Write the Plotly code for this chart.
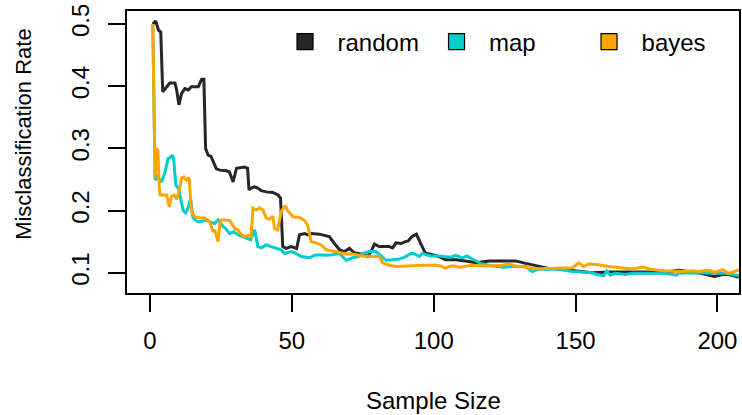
import plotly.graph_objects as go

# ---- data ----
random_x = [1, 2, 3, 3.8, 4.5, 5.9, 7, 8.8, 9.4, 10.2, 11.1, 12.3, 13.5, 14.6, 17, 18.2, 19, 19.6, 20.5, 21.5,
            22.5, 23.4, 24.6, 26.9, 28, 29.3, 30.5, 33.4, 34.4, 34.9, 35.6, 36.9, 38, 39.2, 41, 43.3, 45.1, 46,
            46.8, 48, 49.8, 51.7, 52.7, 54.5, 55.6, 56.8, 59.7, 62.1, 63.2, 65, 66.8, 68.5, 70.3, 72, 75.5, 76.7,
            77.9, 79.1, 80.8, 84.3, 85.5, 86.7, 88.5, 90, 91, 92.3, 93.9, 94.9, 96, 97, 99.5, 101.9, 104.2, 107.8,
            112.4, 114.8, 119.5, 122.9, 128.8, 132.4, 137, 140.5, 144, 150, 155.8, 161.6, 165.1, 170, 175.7,
            181.6, 186.2, 190, 193.3, 197.9, 199, 201.8, 204, 207.3, 210]
random_y = [0.500, 0.505, 0.490, 0.487, 0.391, 0.399, 0.405, 0.405, 0.394, 0.370, 0.388, 0.396, 0.394, 0.399,
            0.399, 0.411, 0.411, 0.300, 0.289, 0.287, 0.276, 0.267, 0.265, 0.264, 0.262, 0.246, 0.268, 0.270,
            0.268, 0.233, 0.236, 0.238, 0.236, 0.232, 0.230, 0.229, 0.225, 0.220, 0.142, 0.139, 0.142, 0.139,
            0.161, 0.163, 0.161, 0.163, 0.162, 0.159, 0.158, 0.147, 0.137, 0.134, 0.139, 0.132, 0.129, 0.126,
            0.134, 0.146, 0.142, 0.142, 0.140, 0.148, 0.147, 0.150, 0.151, 0.158, 0.162, 0.152, 0.142, 0.132,
            0.129, 0.126, 0.121, 0.121, 0.118, 0.116, 0.119, 0.119, 0.119, 0.115, 0.110, 0.107, 0.106, 0.103,
            0.100, 0.101, 0.101, 0.100, 0.100, 0.101, 0.104, 0.102, 0.100, 0.095, 0.094, 0.097, 0.097, 0.093,
            0.093]

map_x = [1, 1.8, 2.6, 4.1, 5.3, 6.4, 6.8, 8, 8.4, 9.1, 10, 10.8, 11.7, 12.6, 13.5, 14.3, 15.2, 16.2, 17, 18.7,
         19.3, 21, 22.8, 24, 25.8, 26.7, 28.1, 29.5, 31, 32.5, 34, 35.5, 36.9, 38, 39.3, 41, 42.7, 44.5, 46.2,
         47.4, 49.8, 51.5, 53.3, 56.2, 58, 59.7, 62.1, 64.4, 66.8, 69.1, 71.4, 73.5, 75, 77.3, 79.6, 81, 83.2,
         85.5, 87.8, 90.2, 91.9, 93.1, 94.9, 96, 97.8, 99, 102, 104.2, 106, 107.8, 110, 111.8, 113.5, 116.6,
         120.6, 124.7, 127.7, 132.4, 134.7, 137, 140, 144, 148.7, 152.3, 155.8, 157, 159.9, 161, 162.2, 164,
         167.5, 170, 172.2, 176, 181.6, 185.6, 186.2, 189.8, 193, 196.8, 199.3, 203, 207.3, 210]
map_y = [0.500, 0.249, 0.254, 0.246, 0.262, 0.284, 0.284, 0.289, 0.280, 0.241, 0.236, 0.217, 0.200, 0.196,
         0.205, 0.219, 0.188, 0.184, 0.182, 0.183, 0.185, 0.182, 0.179, 0.185, 0.174, 0.171, 0.163, 0.166,
         0.161, 0.158, 0.155, 0.153, 0.169, 0.142, 0.140, 0.145, 0.142, 0.139, 0.137, 0.131, 0.134, 0.131,
         0.126, 0.124, 0.128, 0.129, 0.128, 0.129, 0.131, 0.120, 0.124, 0.126, 0.131, 0.134, 0.134, 0.129,
         0.120, 0.121, 0.122, 0.126, 0.131, 0.131, 0.126, 0.131, 0.128, 0.127, 0.127, 0.126, 0.125, 0.128,
         0.124, 0.127, 0.122, 0.115, 0.111, 0.109, 0.110, 0.110, 0.102, 0.106, 0.105, 0.106, 0.102, 0.101,
         0.100, 0.098, 0.095, 0.103, 0.096, 0.099, 0.097, 0.099, 0.099, 0.099, 0.099, 0.096, 0.099, 0.100,
         0.099, 0.100, 0.099, 0.099, 0.095, 0.095]

bayes_x = [1, 1.8, 2.3, 2.8, 3.3, 3.6, 5.9, 6.8, 7.6, 8.5, 9.4, 10.5, 11.1, 11.9, 12.8, 13.8, 14.6, 15.8, 17.6,
           19.3, 21.1, 22.2, 22.8, 24, 24.7, 25.2, 28.1, 29.9, 31, 32.2, 33.4, 34.5, 35.6, 36.3, 37.5, 38.6,
           39.8, 41, 42, 43.3, 43.9, 45, 46.3, 47.8, 48.5, 50.4, 52.7, 54.5, 55.6, 56.8, 58.5, 60.3, 62.1, 63.2,
           64.4, 67.9, 69.1, 71.4, 75, 78.5, 80.8, 82, 84.3, 86.7, 90.2, 93, 96, 100.7, 102.5, 104.2, 105.4,
           107, 109, 113.6, 117, 120.5, 124.1, 126.5, 129, 131, 134.7, 137, 140, 144, 146.4, 149, 151.1, 152.9,
           154.6, 158, 161.6, 164, 167.5, 169.8, 173.9, 176, 179.2, 181.6, 187.4, 191, 193.3, 196.8, 199, 202,
           203.8, 205.5, 207.3, 210]
bayes_y = [0.500, 0.252, 0.300, 0.297, 0.236, 0.225, 0.225, 0.206, 0.223, 0.225, 0.218, 0.236, 0.252, 0.254,
           0.249, 0.253, 0.198, 0.190, 0.188, 0.188, 0.182, 0.166, 0.169, 0.150, 0.182, 0.185, 0.184, 0.171,
           0.169, 0.161, 0.158, 0.160, 0.158, 0.204, 0.201, 0.204, 0.201, 0.188, 0.186, 0.191, 0.171, 0.169,
           0.199, 0.208, 0.200, 0.190, 0.189, 0.184, 0.176, 0.150, 0.148, 0.145, 0.137, 0.136, 0.134, 0.132,
           0.130, 0.130, 0.127, 0.126, 0.126, 0.116, 0.112, 0.110, 0.111, 0.111, 0.112, 0.112, 0.111, 0.107,
           0.110, 0.111, 0.109, 0.112, 0.111, 0.111, 0.112, 0.114, 0.111, 0.110, 0.107, 0.106, 0.107, 0.107,
           0.107, 0.108, 0.116, 0.110, 0.114, 0.113, 0.110, 0.109, 0.108, 0.106, 0.109, 0.106, 0.104, 0.103,
           0.102, 0.103, 0.102, 0.104, 0.101, 0.105, 0.099, 0.102, 0.104, 0.104]

series_names = ["random", "map", "bayes"]
series_colors = ["#262626", "#00CDCD", "#FFA500"]
x_ticks = [0, 50, 100, 150, 200]
y_ticks = [0.1, 0.2, 0.3, 0.4, 0.5]
x_title = "Sample Size"
y_title = "Misclassification Rate"

FONT = "Liberation Sans, Arial, Helvetica, sans-serif"

fig = go.Figure()
all_x = [random_x, map_x, bayes_x]
all_y = [random_y, map_y, bayes_y]
legend_ids = ["legend", "legend2", "legend3"]
for xs, ys, name, col in zip(all_x, all_y, series_names, series_colors):
    fig.add_trace(go.Scatter(x=xs, y=ys, mode="lines", name=name,
                             line=dict(color=col, width=3), showlegend=False))
for name, col, lg in zip(series_names, series_colors, legend_ids):
    fig.add_trace(go.Scatter(x=[None], y=[None], mode="markers", name=name, legend=lg,
                             marker=dict(symbol="square", size=17, color=col,
                                         line=dict(color="black", width=1.2)),
                             showlegend=True))

leg_common = dict(orientation="h", bgcolor="rgba(0,0,0,0)", borderwidth=0,
                  font=dict(family=FONT, size=24, color="black"),
                  yanchor="middle", y=0.89, xanchor="left", itemwidth=55)
fig.update_layout(
    width=742, height=415,
    margin=dict(l=127, r=1, t=11, b=122),
    paper_bgcolor="white", plot_bgcolor="white",
    font=dict(family=FONT, size=24, color="black"),
    legend=dict(x=(273 - 127) / 614, **leg_common),
    legend2=dict(x=(425 - 127) / 614, **leg_common),
    legend3=dict(x=(578 - 127) / 614, **leg_common),
    annotations=[
        dict(text=x_title, xref="paper", yref="paper", x=0.5, y=(293 - 401) / 282,
             xanchor="center", yanchor="middle", showarrow=False, font=dict(size=24)),
        dict(text=y_title, xref="paper", yref="paper", x=(22.5 - 127) / 614, y=(293 - 134) / 282,
             xanchor="center", yanchor="middle", textangle=-90, showarrow=False, font=dict(size=22)),
    ],
)
fig.update_xaxes(range=[-8.1, 207.6], tickvals=x_ticks, ticktext=[str(v) for v in x_ticks],
                 showline=True, mirror=True, linecolor="black", linewidth=1.5,
                 ticks="outside", ticklen=17, tickwidth=1.5, tickcolor="black",
                 showgrid=False, zeroline=False, ticklabelstandoff=8,
                 tickfont=dict(size=24, family=FONT, color="black"))
fig.update_yaxes(range=[0.0674, 0.5209], tickvals=y_ticks, ticktext=[f"{v:.1f}" for v in y_ticks],
                 showline=True, mirror=True, linecolor="black", linewidth=1.5,
                 ticks="outside", ticklen=17, tickwidth=1.5, tickcolor="black",
                 showgrid=False, zeroline=False, tickangle=-90, ticklabelstandoff=10,
                 tickfont=dict(size=24, family=FONT, color="black"))

fig.write_html("out.html", config={"displayModeBar": False},
               post_script="document.body.style.margin='0';")
